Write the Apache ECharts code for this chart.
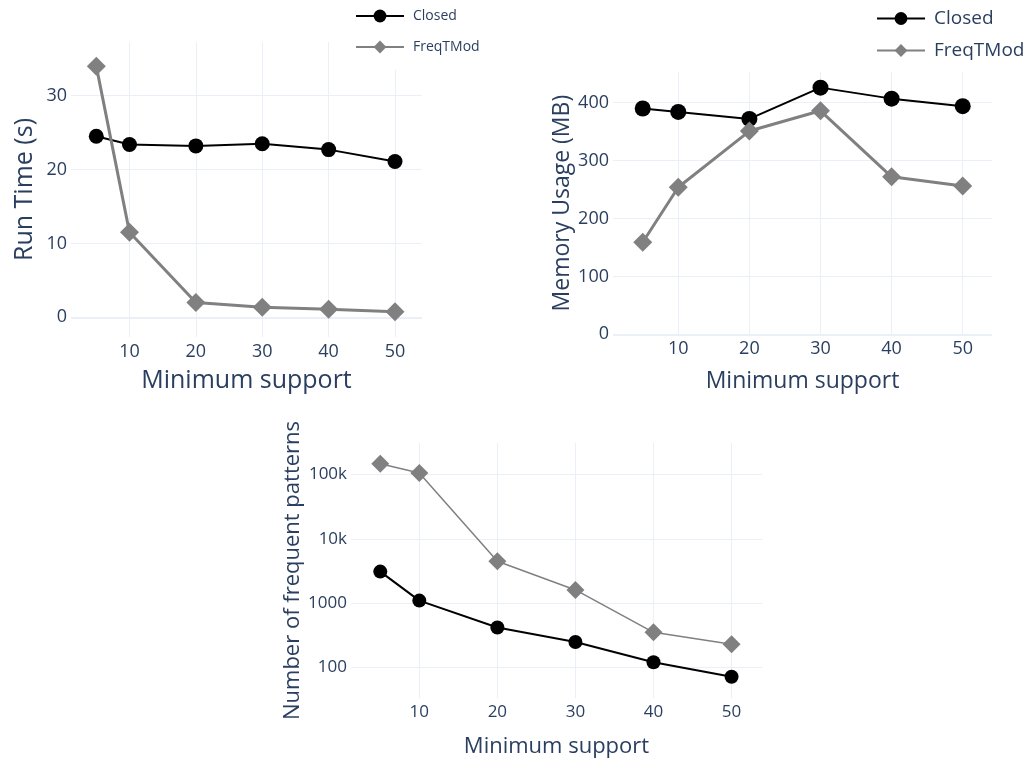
<!DOCTYPE html>
<html>
<head>
<meta charset="utf-8">
<script src="https://cdn.jsdelivr.net/npm/echarts@6/dist/echarts.min.js"></script>
<style>
  html, body { margin: 0; padding: 0; background: #fff; }
  #chart { width: 1031px; height: 762px; }
</style>
</head>
<body>
<div id="chart"></div>
<script>
// Minimum support thresholds shared by all three panels
const minSupport = [5, 10, 20, 30, 40, 50];

// Run time in seconds
const runTimeClosed = [24.5, 23.4, 23.2, 23.5, 22.7, 21.1];
const runTimeFreqTMod = [34.0, 11.5, 2.0, 1.35, 1.1, 0.75];

// Memory usage in MB
const memoryClosed = [390, 384, 372, 426, 407, 394];
const memoryFreqTMod = [159, 254, 351, 386, 272, 256];

// Number of frequent patterns (log scale)
const patternsClosed = [3100, 1100, 420, 250, 121, 72];
const patternsFreqTMod = [147000, 106000, 4500, 1610, 353, 231];

// Tick values
const supportTicks = [10, 20, 30, 40, 50];
const runTimeTicks = [0, 10, 20, 30];
const memoryTicks = [0, 100, 200, 300, 400];
const patternTicks = [100, 1000, 10000, 100000];

const seriesNames = ['Closed', 'FreqTMod'];

const TEXT = '#2a3f5f';
const GRID = '#ebf0f8';
const FONT = '"Open Sans", "DejaVu Sans", sans-serif';
const BLACK = '#000000';
const GRAY = '#808080';

const pairs = (ys) => minSupport.map((x, i) => [x, ys[i]]);

function xAxis(gridIndex, min, max, labelSize, nameSize, nameGap) {
  return {
    type: 'value', gridIndex, min, max,
    axisLine: { show: false },
    axisTick: { show: false, customValues: supportTicks },
    axisLabel: {
      customValues: supportTicks, color: TEXT, fontFamily: FONT,
      fontSize: labelSize, margin: 6
    },
    splitLine: { show: true, lineStyle: { color: GRID, width: 1 } },
    name: 'Minimum support', nameLocation: 'middle', nameGap,
    nameTextStyle: { color: TEXT, fontFamily: FONT, fontSize: nameSize }
  };
}

function yAxis(gridIndex, opts) {
  return Object.assign({
    type: 'value', gridIndex,
    axisLine: { show: false },
    axisTick: { show: false, customValues: opts.ticks },
    axisLabel: {
      customValues: opts.ticks, color: TEXT, fontFamily: FONT,
      fontSize: opts.labelSize, margin: 4, formatter: opts.formatter
    },
    splitLine: { show: true, lineStyle: { color: GRID, width: 1 } },
    nameLocation: 'middle', nameRotate: 90,
    nameTextStyle: { color: TEXT, fontFamily: FONT, fontSize: opts.nameSize }
  }, opts.extra);
}

function lineSeries(name, idx, data, closed, width, size) {
  return {
    name, type: 'line', xAxisIndex: idx, yAxisIndex: idx, data,
    symbol: closed ? 'circle' : 'diamond',
    symbolSize: size,
    z: 3,
    itemStyle: { color: closed ? BLACK : GRAY },
    lineStyle: { color: closed ? BLACK : GRAY, width },
    emphasis: { disabled: true }
  };
}

// Thick zero line drawn under the data
function zeroLine(idx) {
  return {
    type: 'line', xAxisIndex: idx, yAxisIndex: idx, data: [],
    silent: true,
    markLine: {
      silent: true, symbol: 'none', z: 1, label: { show: false },
      lineStyle: { color: GRID, width: 2, type: 'solid' },
      data: [{ yAxis: 0 }]
    }
  };
}

const legendBase = {
  orient: 'vertical', itemWidth: 48, itemHeight: 16,
  data: seriesNames, selectedMode: false
};

const option = {
  animation: false,
  backgroundColor: '#ffffff',
  grid: [
    { left: 71, right: 609, top: 42, bottom: 425 },
    { left: 613, right: 39, top: 72, bottom: 427.7 },
    { left: 351, right: 269, top: 443, bottom: 64 }
  ],
  xAxis: [
    xAxis(0, 1.19, 54.07, 18, 25, 31),
    xAxis(1, 0.82, 54.12, 18, 23, 36),
    xAxis(2, 1.25, 53.9, 17, 22, 38)
  ],
  yAxis: [
    yAxis(0, { ticks: runTimeTicks, labelSize: 18, nameSize: 25,
      extra: { min: -2.67, max: 37.27, name: 'Run Time (s)', nameGap: 34 } }),
    yAxis(1, { ticks: memoryTicks, labelSize: 18, nameSize: 23,
      extra: { min: 0, max: 453, name: 'Memory Usage (MB)', nameGap: 34 } }),
    yAxis(2, { ticks: patternTicks, labelSize: 17, nameSize: 22,
      formatter: (v) => v >= 10000 ? Math.round(v / 1000) + 'k' : String(Math.round(v)),
      extra: { type: 'log', logBase: 10, min: 33.7, max: 309000,
        name: 'Number of frequent patterns', nameGap: 41 } })
  ],
  legend: [
    Object.assign({}, legendBase, {
      left: 343, top: 1, padding: [7, 12, 15, 12], itemGap: 15,
      backgroundColor: '#ffffff', z: 10,
      textStyle: { color: TEXT, fontFamily: FONT, fontSize: 14, lineHeight: 16, padding: [0, 0, 0, 4] }
    }),
    Object.assign({}, legendBase, {
      left: 876, top: 9, padding: 0, itemGap: 13,
      textStyle: { color: TEXT, fontFamily: FONT, fontSize: 19, lineHeight: 16, padding: [0, 0, 0, 4] }
    })
  ],
  series: [
    lineSeries('Closed', 0, pairs(runTimeClosed), true, 2, 15),
    lineSeries('FreqTMod', 0, pairs(runTimeFreqTMod), false, 3, 19),
    lineSeries('Closed', 1, pairs(memoryClosed), true, 2, 16),
    lineSeries('FreqTMod', 1, pairs(memoryFreqTMod), false, 3, 19),
    lineSeries('Closed', 2, pairs(patternsClosed), true, 2, 14),
    lineSeries('FreqTMod', 2, pairs(patternsFreqTMod), false, 1.5, 18),
    zeroLine(0),
    zeroLine(1)
  ]
};

const chart = echarts.init(document.getElementById('chart'), null, { renderer: 'canvas' });
chart.setOption(option);
</script>
</body>
</html>
